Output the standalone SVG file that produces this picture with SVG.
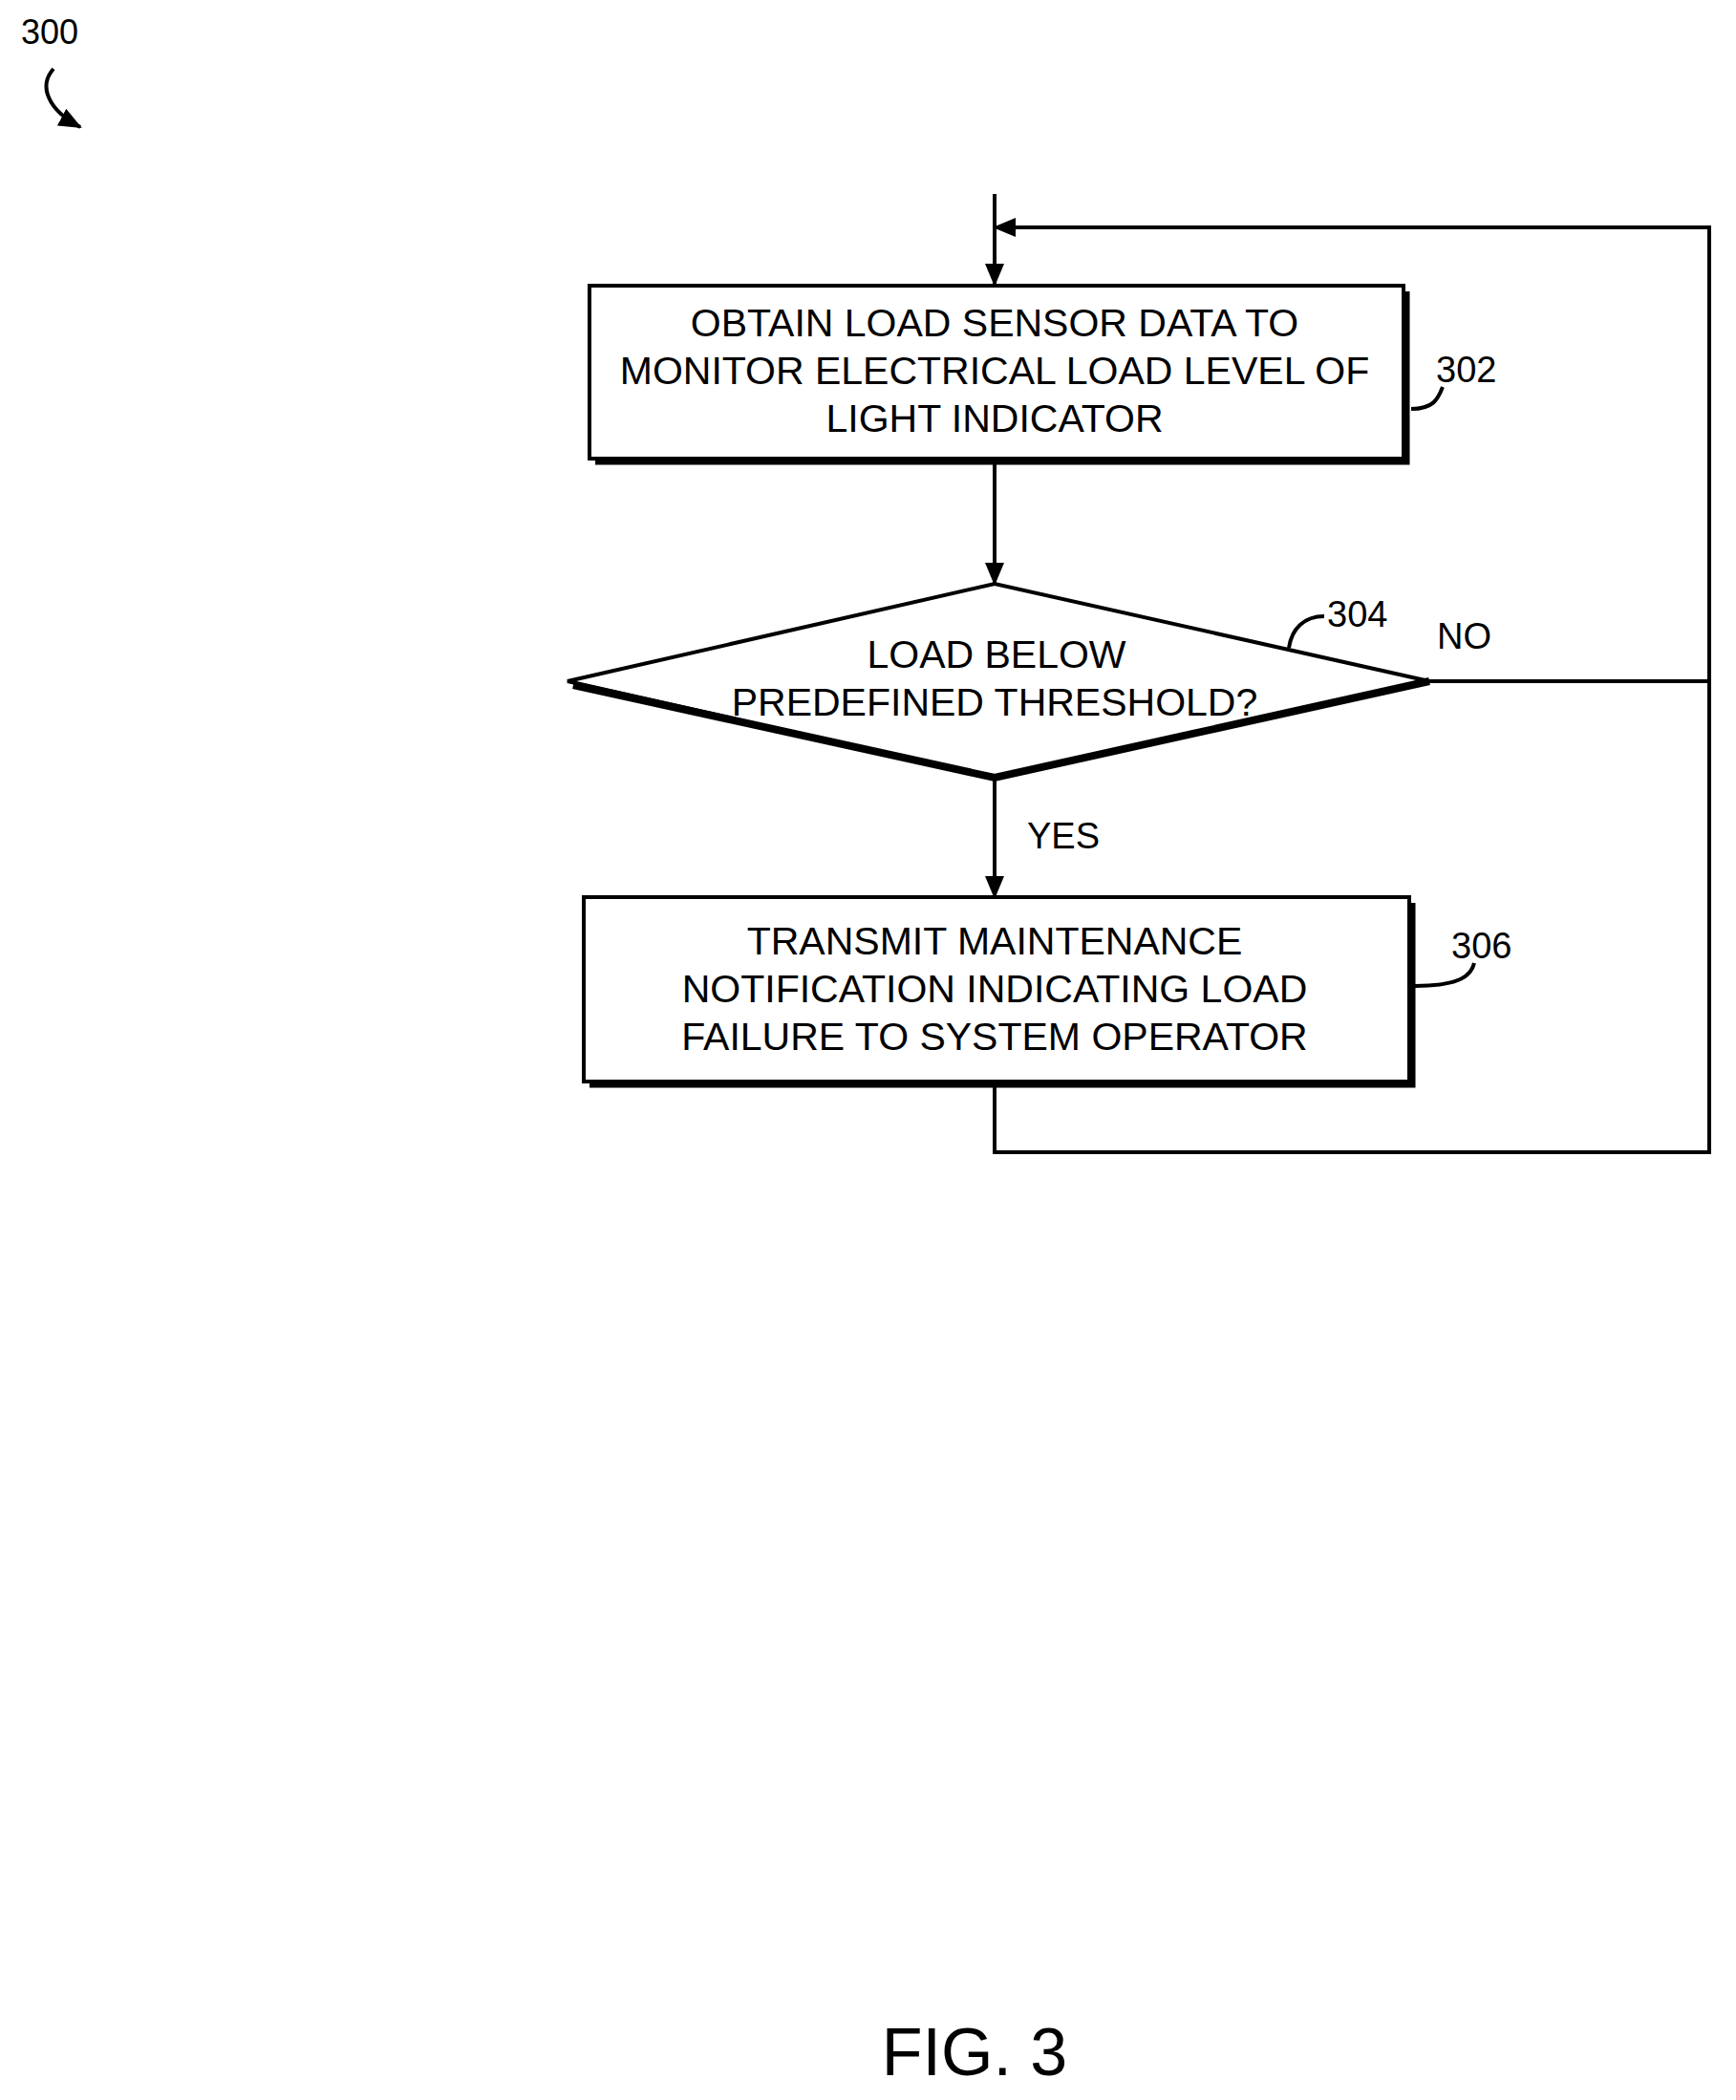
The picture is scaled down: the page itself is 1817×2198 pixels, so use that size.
<svg xmlns="http://www.w3.org/2000/svg" width="1817" height="2198" viewBox="0 0 1817 2198">
<style>
text{font-family:"Liberation Sans",Arial,sans-serif;fill:#000;text-anchor:middle}
.t{font-size:41px}
.l{font-size:38px;text-anchor:start}
.ln{fill:none;stroke:#000;stroke-width:4}
.sh{fill:none;stroke:#000;stroke-width:5}
</style>
<defs>
<marker id="a2" markerWidth="24" markerHeight="20" refX="22" refY="10" orient="auto" markerUnits="userSpaceOnUse"><path d="M0,0L24,10L0,20z"/></marker>
</defs>
<text x="52" y="46" style="font-size:36px">300</text>
<path class="ln" d="M56,72 C40,90 50,115 84,133" marker-end="url(#a2)"/>
<g id="n302">
<rect x="617" y="299" width="852" height="181" fill="#fff" stroke="#000" stroke-width="4"/>
<path class="sh" d="M623,484 H1473 V305"/>
<text x="1041" y="352" class="t">OBTAIN LOAD SENSOR DATA TO</text>
<text x="1041" y="402" class="t">MONITOR ELECTRICAL LOAD LEVEL OF</text>
<text x="1041" y="452" class="t">LIGHT INDICATOR</text>
<text x="1503" y="400" class="l">302</text>
<path class="ln" d="M1477,428 C1500,428 1505,418 1510,405"/>
</g>
<g id="n304">
<polygon points="594,713 1041,611 1496,713 1041,814" fill="#fff" stroke="#000" stroke-width="4"/>
<path d="M1496,713 L1041,814 L600,717" fill="none" stroke="#000" stroke-width="8"/>
<text x="1043" y="699" class="t">LOAD BELOW</text>
<text x="1041" y="749" class="t">PREDEFINED THRESHOLD?</text>
<text x="1389" y="656" class="l">304</text>
<path class="ln" d="M1349,678 C1352,658 1365,645 1386,645"/>
<text x="1504" y="679" class="l">NO</text>
<text x="1075" y="888" class="l">YES</text>
</g>
<g id="n306">
<rect x="611" y="939" width="864" height="193" fill="#fff" stroke="#000" stroke-width="4"/>
<path class="sh" d="M617,1136 H1479 V945"/>
<text x="1041" y="999" class="t">TRANSMIT MAINTENANCE</text>
<text x="1041" y="1049" class="t">NOTIFICATION INDICATING LOAD</text>
<text x="1041" y="1099" class="t">FAILURE TO SYSTEM OPERATOR</text>
<text x="1519" y="1003" class="l">306</text>
<path class="ln" d="M1481,1032 C1530,1032 1540,1020 1543,1008"/>
</g>
<g id="connectors">
<path class="ln" d="M1041,203 V298" marker-end="url(#a2)"/>
<path class="ln" d="M1041,484 V611" marker-end="url(#a2)"/>
<path class="ln" d="M1041,814 V939" marker-end="url(#a2)"/>
<path class="ln" d="M1496,713 H1789 V238 H1041" marker-end="url(#a2)"/>
<path class="ln" d="M1041,1136 V1206 H1789 V713"/>
</g>
<text x="1020" y="2172" style="font-size:70px">FIG. 3</text>
</svg>
